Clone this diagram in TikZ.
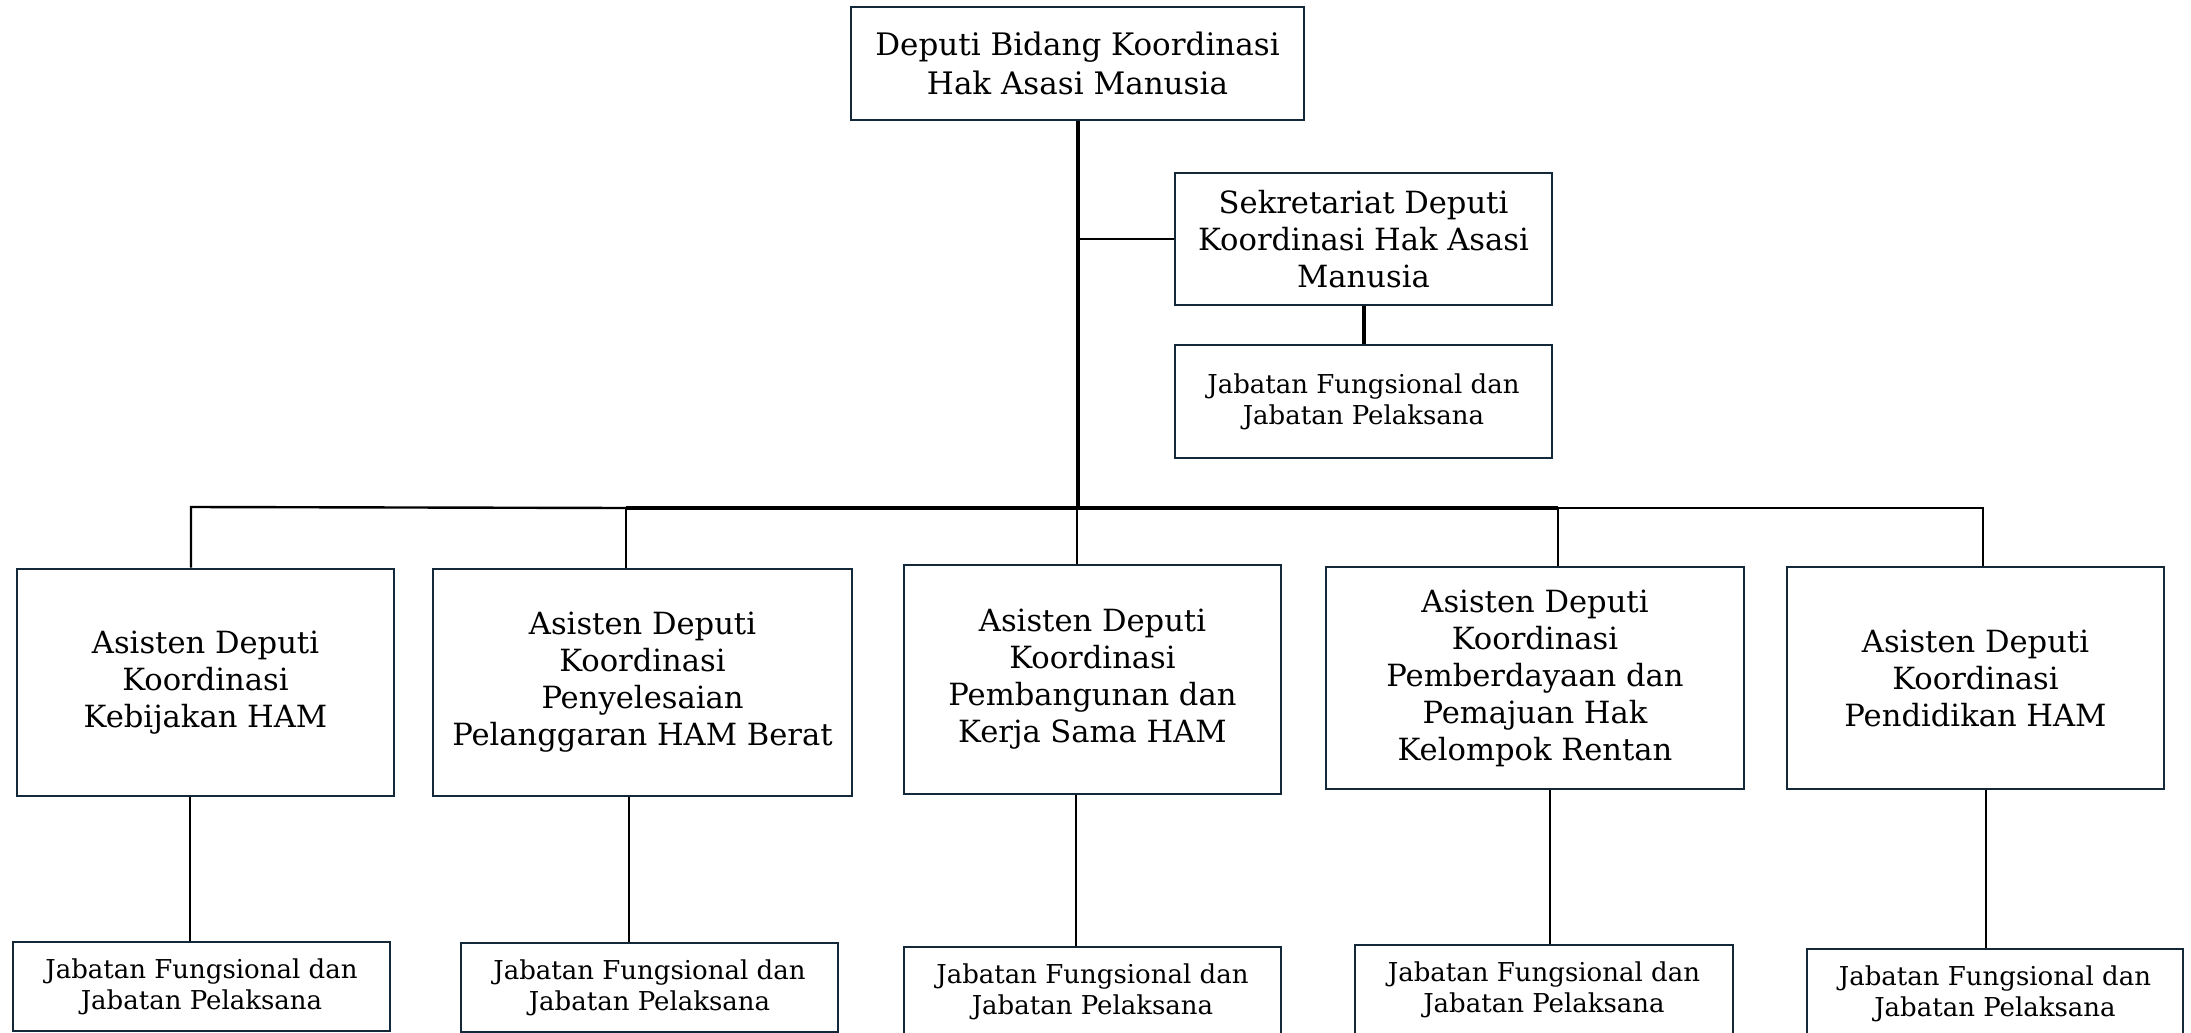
\documentclass[tikz,border=0pt]{standalone}
\usepackage{fontspec}
\setmainfont{DejaVu Serif}
\definecolor{boxc}{HTML}{13293A}
\begin{document}
\begin{tikzpicture}[x=0.5pt,y=-0.5pt,
  box/.style={draw=boxc, line width=1.4pt, rectangle, align=center, inner sep=0pt,
    font=\fontsize{15.3}{18.5}\selectfont},
  topbox/.style={box, font=\fontsize{15.5}{19.5}\selectfont},
  smallbox/.style={box, font=\fontsize{13}{15.5}\selectfont},
  conn/.style={draw=black, line width=1.2pt},
  mainconn/.style={draw=black, line width=2pt}]
\useasboundingbox (0,0) rectangle (2191,1033);
\clip (0,0) rectangle (2191,1033);
\fill[white] (0,0) rectangle (2191,1033);

% top level
\node[topbox, minimum width=226.5pt, minimum height=56.5pt] (top) at (1077.5,63.5)
  {Deputi Bidang Koordinasi\\Hak Asasi Manusia};
\node[box, minimum width=188.5pt, minimum height=66pt] (sek) at (1363.5,239)
  {Sekretariat Deputi\\Koordinasi Hak Asasi\\Manusia};
\node[smallbox, minimum width=188.5pt, minimum height=56.5pt] (sekj) at (1363.5,401.5)
  {Jabatan Fungsional dan\\Jabatan Pelaksana};

% second level
\node[box, minimum width=188.5pt, minimum height=113.5pt] (B1) at (205.5,682.5)
  {Asisten Deputi\\Koordinasi\\Kebijakan HAM};
\node[box, minimum width=209.5pt, minimum height=113.5pt] (B2) at (642.5,682.5)
  {Asisten Deputi\\Koordinasi\\Penyelesaian\\Pelanggaran HAM Berat};
\node[box, minimum width=188.5pt, minimum height=114.5pt] (B3) at (1092.5,679.5)
  {Asisten Deputi\\Koordinasi\\Pembangunan dan\\Kerja Sama HAM};
\node[box, minimum width=209pt, minimum height=111pt] (B4) at (1535,678)
  {Asisten Deputi\\Koordinasi\\Pemberdayaan dan\\Pemajuan Hak\\Kelompok Rentan};
\node[box, minimum width=188.5pt, minimum height=111pt] (B5) at (1975.5,678)
  {Asisten Deputi\\Koordinasi\\Pendidikan HAM};

% third level
\node[smallbox, minimum width=188.5pt, minimum height=44.5pt] (J1) at (201.5,986.5)
  {Jabatan Fungsional dan\\Jabatan Pelaksana};
\node[smallbox, minimum width=188.5pt, minimum height=44.5pt] (J2) at (649.5,987.5)
  {Jabatan Fungsional dan\\Jabatan Pelaksana};
\node[smallbox, minimum width=188.5pt, minimum height=44.5pt] (J3) at (1092.5,991.5)
  {Jabatan Fungsional dan\\Jabatan Pelaksana};
\node[smallbox, minimum width=189pt, minimum height=44.5pt] (J4) at (1544,989.5)
  {Jabatan Fungsional dan\\Jabatan Pelaksana};
\node[smallbox, minimum width=188pt, minimum height=44.5pt] (J5) at (1995,993.5)
  {Jabatan Fungsional dan\\Jabatan Pelaksana};

% bus coordinates
\coordinate (b1) at (191,507);
\coordinate (b2) at (626,508);
\coordinate (b3) at (1077,508);
\coordinate (b4) at (1558,508);
\coordinate (b5) at (1983,508);
% drop coordinates to third level
\coordinate (d1) at (190,0);
\coordinate (d2) at (629,0);
\coordinate (d3) at (1076,0);
\coordinate (d4) at (1550,0);
\coordinate (d5) at (1986,0);

% connectors
\draw[mainconn] (top.south) -- (top.south |- b3);
\draw[conn] (top.south |- sek.west) -- (sek.west);
\draw[mainconn] (sek.south) -- (sekj.north);
\draw[conn] (b1 |- B1.north) -- (b1) -- (b2);
\draw[mainconn] (b2) -- (b4);
\draw[conn] (b4) -- (b5) -- (b5 |- B5.north);
\draw[conn] (b2) -- (b2 |- B2.north);
\draw[conn] (b3) -- (b3 |- B3.north);
\draw[conn] (b4) -- (b4 |- B4.north);

\draw[conn] (d1 |- B1.south) -- (d1 |- J1.north);
\draw[conn] (d2 |- B2.south) -- (d2 |- J2.north);
\draw[conn] (d3 |- B3.south) -- (d3 |- J3.north);
\draw[conn] (d4 |- B4.south) -- (d4 |- J4.north);
\draw[conn] (d5 |- B5.south) -- (d5 |- J5.north);
\end{tikzpicture}
\end{document}
